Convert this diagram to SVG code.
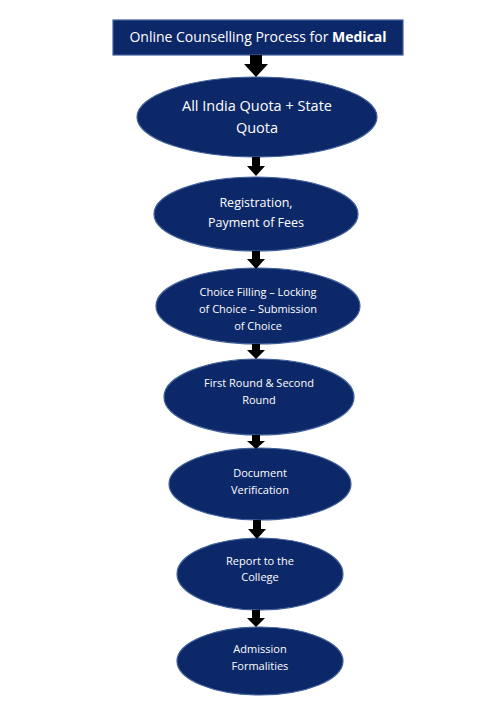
<svg xmlns="http://www.w3.org/2000/svg" width="500" height="707" viewBox="0 0 500 707">
<style>
.n{fill:#0d2868;stroke:#41609a;stroke-width:1.2}
.t{fill:#fff;font-family:"Open Sans","Liberation Sans",sans-serif;text-anchor:middle}
.a{fill:#000}
</style>
<rect width="500" height="707" fill="#fff"/>
<g id="title">
<rect class="n" x="113" y="20" width="290" height="35"/>
<text class="t" x="258" y="42" font-size="14">Online Counselling Process for <tspan font-weight="bold">Medical</tspan></text>
</g>
<g id="quota">
<ellipse class="n" cx="257" cy="117" rx="120" ry="40"/>
<text class="t" font-size="14.5"><tspan x="257" y="111">All India Quota + State</tspan><tspan x="257" y="133">Quota</tspan></text>
</g>
<g id="registration">
<ellipse class="n" cx="256" cy="214" rx="102" ry="37"/>
<text class="t" font-size="12.5"><tspan x="256" y="207">Registration,</tspan><tspan x="256" y="227">Payment of Fees</tspan></text>
</g>
<g id="choice">
<ellipse class="n" cx="258" cy="306" rx="102" ry="38"/>
<text class="t" font-size="11"><tspan x="258" y="296">Choice Filling – Locking</tspan><tspan x="258" y="313">of Choice – Submission</tspan><tspan x="258" y="330">of Choice</tspan></text>
</g>
<g id="rounds">
<ellipse class="n" cx="259" cy="397" rx="95" ry="38"/>
<text class="t" font-size="11"><tspan x="259" y="387">First Round &amp; Second</tspan><tspan x="259" y="404">Round</tspan></text>
</g>
<g id="document">
<ellipse class="n" cx="260" cy="484" rx="91" ry="36"/>
<text class="t" font-size="11"><tspan x="260" y="477">Document</tspan><tspan x="260" y="494">Verification</tspan></text>
</g>
<g id="report">
<ellipse class="n" cx="260" cy="574" rx="83" ry="36"/>
<text class="t" font-size="11"><tspan x="260" y="565">Report to the</tspan><tspan x="260" y="581">College</tspan></text>
</g>
<g id="admission">
<ellipse class="n" cx="260" cy="661" rx="83" ry="34"/>
<text class="t" font-size="11"><tspan x="260" y="653">Admission</tspan><tspan x="260" y="670">Formalities</tspan></text>
</g>
<g id="connectors">
<polygon class="a" points="250,55 262,55 262,64 268,64 256,77 244,64 250,64"/>
<polygon class="a" points="252,157 260,157 260,166 265,166 256,176 247,166 252,166"/>
<polygon class="a" points="252,251 260,251 260,259 265,259 256,269 247,259 252,259"/>
<polygon class="a" points="252,344 260,344 260,350 265,350 256,359 247,350 252,350"/>
<polygon class="a" points="252,435 260,435 260,441 265,441 256,449 247,441 252,441"/>
<polygon class="a" points="253,520 261,520 261,529 266,529 257,539 248,529 253,529"/>
<polygon class="a" points="252,610 260,610 260,618 265,618 256,627 247,618 252,618"/>
</g>
</svg>
